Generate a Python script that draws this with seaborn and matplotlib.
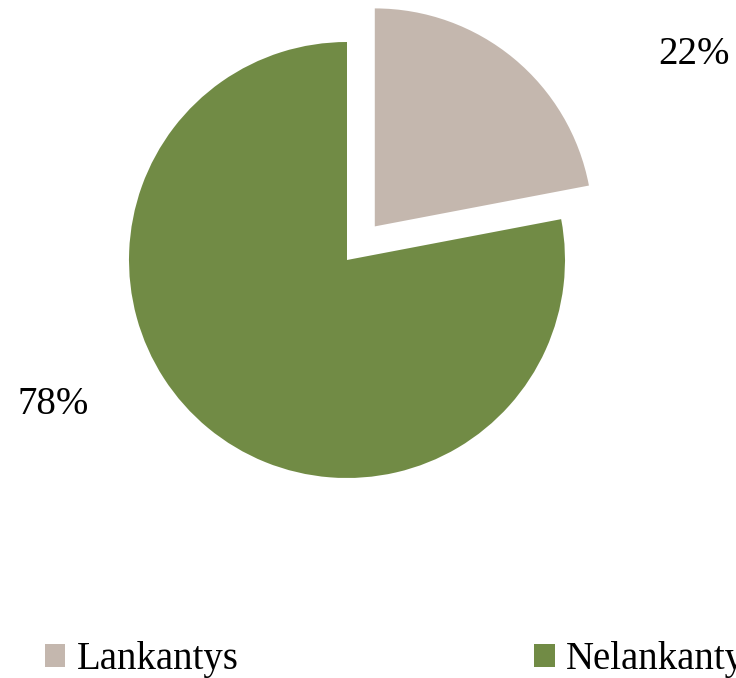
import matplotlib
matplotlib.use('Agg')
import matplotlib.pyplot as plt
import seaborn as sns

# Duomenys
categories = ['Lankantys', 'Nelankantys']
values = [22, 78]
colors = ['#C4B7AE', '#718B45']
explode_frac = [0.2, 0.0]

sns.set_theme(style='white')
plt.rcParams['font.family'] = ['Liberation Serif', 'DejaVu Serif']
plt.rcParams['text.color'] = 'black'

fig = plt.figure(figsize=(7.36, 6.78), dpi=100)
ax = fig.add_axes([0, 0, 1, 1])

radius = 218
wedges, _ = ax.pie(values, colors=colors, explode=[e * radius for e in explode_frac],
                   startangle=90, counterclock=False, center=(347, 418), radius=radius,
                   frame=True, wedgeprops={'linewidth': 0})
ax.set_xlim(0, 736)
ax.set_ylim(0, 678)
ax.set_aspect('equal')
ax.axis('off')

# Procentu etiketes
label_pos = [(694, 624), (53, 273)]
for v, (x, y) in zip(values, label_pos):
    ax.text(x, y, f'{v}%', fontsize=28, ha='center', va='center', color='black')

leg = fig.legend(wedges, categories, loc='lower left', bbox_to_anchor=(45 / 736, 0.0),
                 ncol=2, frameon=False, fontsize=28, handlelength=0.52, handleheight=0.52,
                 handletextpad=0.3, columnspacing=7.6, borderpad=0, borderaxespad=0,
                 labelcolor='black')

fig.savefig('out.png', dpi=100)
